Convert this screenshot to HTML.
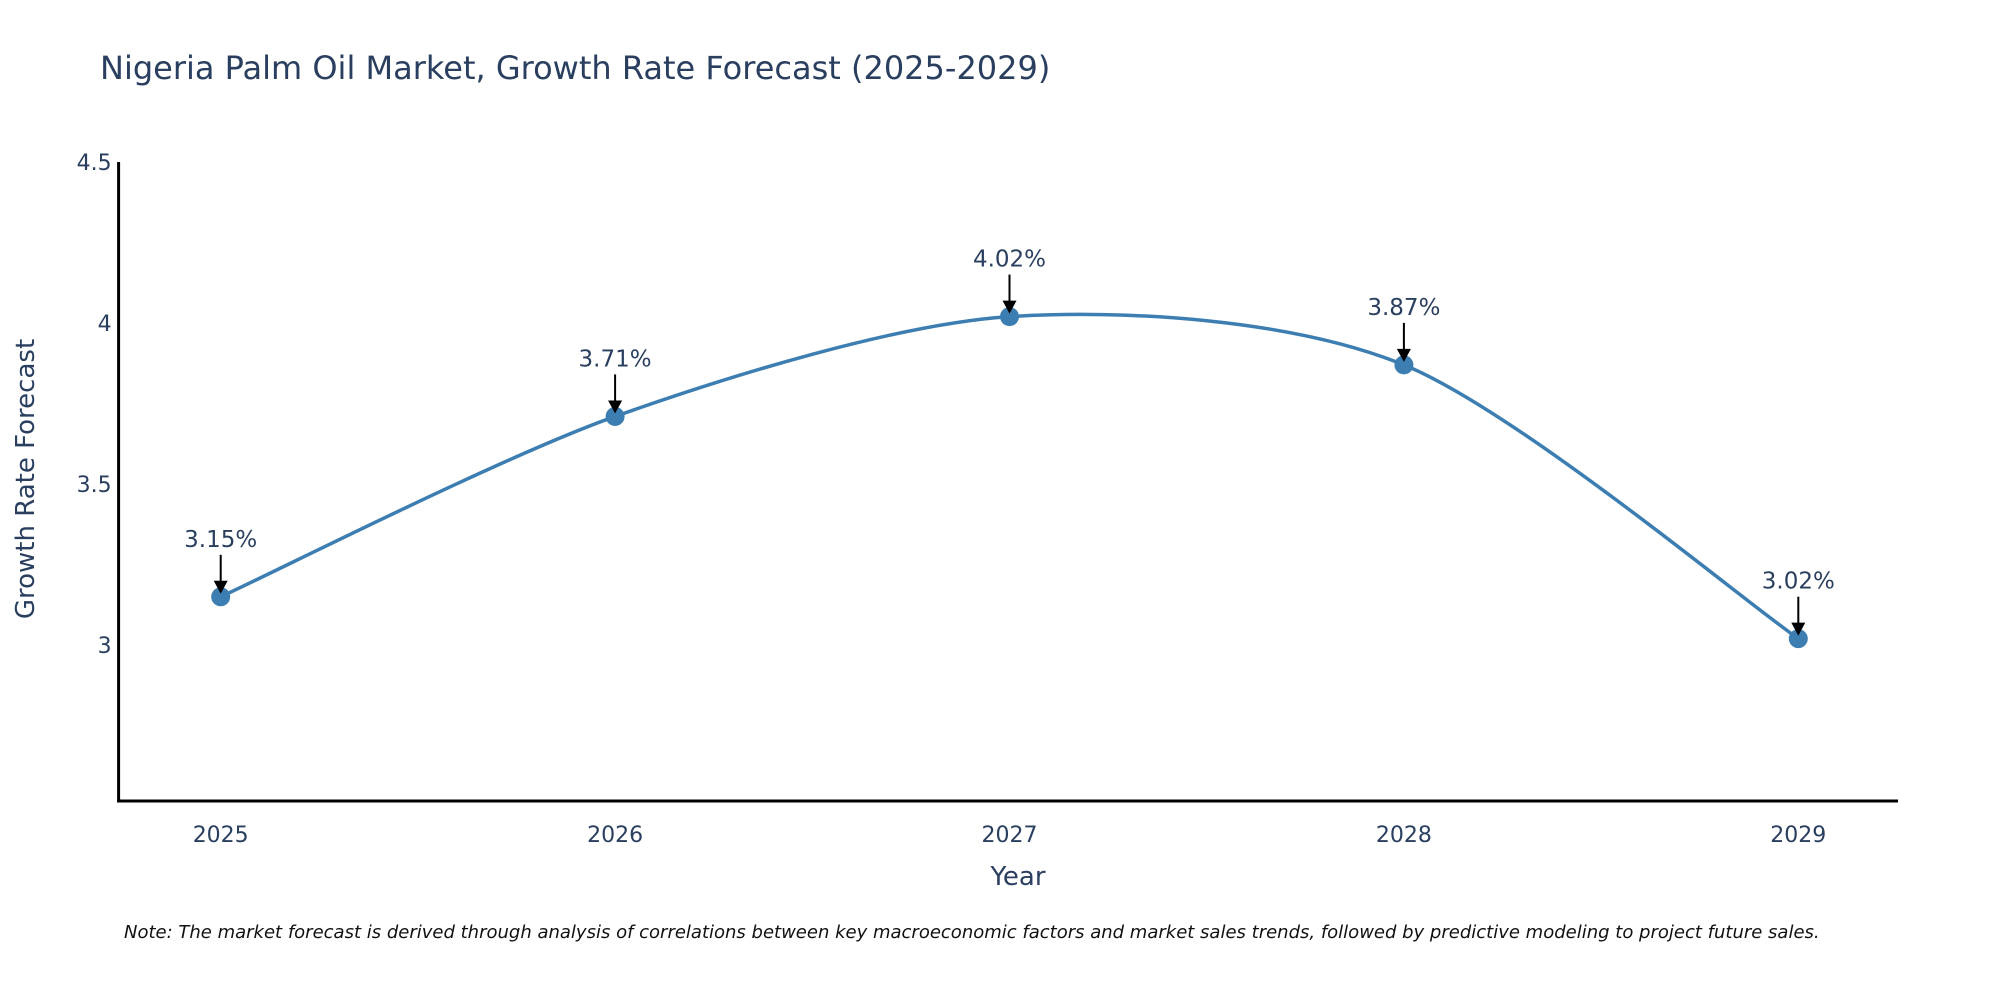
<!DOCTYPE html>
<html><head><meta charset="utf-8"><style>
body{margin:0;background:#fff}
svg{display:block;font-family:"DejaVu Sans","Liberation Sans",sans-serif}
</style></head><body>
<svg id="chart" width="2000" height="1000" viewBox="0 0 2000 1000">
<text x="100" y="79" font-size="32" fill="#2a3f5f">Nigeria Palm Oil Market, Growth Rate Forecast (2025-2029)</text>
<g id="axes"></g>
<g id="series"></g>
<text x="1018" y="885" font-size="26" fill="#2a3f5f" text-anchor="middle">Year</text>
<text transform="translate(34,479) rotate(-90)" font-size="26" fill="#2a3f5f" text-anchor="middle">Growth Rate Forecast</text>
<text x="124" y="938" font-size="18" font-style="italic" fill="#111">Note: The market forecast is derived through analysis of correlations between key macroeconomic factors and market sales trends, followed by predictive modeling to project future sales.</text>
</svg>
<script>
const years = [2025, 2026, 2027, 2028, 2029];
const values = [3.15, 3.71, 4.02, 3.87, 3.02];
const yTicks = [3, 3.5, 4, 4.5];
const yTickLabels = ["3", "3.5", "4", "4.5"];
const NS = "http://www.w3.org/2000/svg";
const L = 118.6, R = 1898, T = 162, B = 801;
const yMin = 2.516, yMax = 4.5;
const x0 = 220.7, dx = 394.4;
function xs(i){ return x0 + i*dx; }
function ys(v){ return B - (v - yMin)/(yMax - yMin)*(B - T); }
function mk(tag, attrs, parent){ const e = document.createElementNS(NS, tag); for (const k in attrs) e.setAttribute(k, attrs[k]); parent.appendChild(e); return e; }
const axes = document.getElementById('axes');
const series = document.getElementById('series');
const ya = mk('line', {x1:L, y1:T, x2:L, y2:B+1.5, stroke:'#000', 'stroke-width':3}, axes);


const xa = mk('line', {x1:L-1.5, y1:B, x2:R, y2:B, stroke:'#000', 'stroke-width':3}, axes);


yTicks.forEach((v, i) => {
  const t = mk('text', {x:L-7, y:ys(v)+8, 'font-size':22, fill:'#2a3f5f', 'text-anchor':'end'}, axes);
  t.textContent = yTickLabels[i];
  
  
});
years.forEach((yr, i) => {
  const t = mk('text', {x:xs(i), y:B+41, 'font-size':22, fill:'#2a3f5f', 'text-anchor':'middle'}, axes);
  t.textContent = String(yr);
  
  
});
const pts = values.map((v, i) => [xs(i), ys(v)]);
let d = `M${pts[0][0]},${pts[0][1]}`;
const k = 1/7;
for (let i = 0; i < pts.length-1; i++) {
  const p0 = pts[Math.max(0,i-1)], p1 = pts[i], p2 = pts[i+1], p3 = pts[Math.min(pts.length-1,i+2)];
  const c1 = [p1[0]+(p2[0]-p0[0])*k, p1[1]+(p2[1]-p0[1])*k];
  const c2 = [p2[0]-(p3[0]-p1[0])*k, p2[1]-(p3[1]-p1[1])*k];
  d += ` C${c1[0]},${c1[1]} ${c2[0]},${c2[1]} ${p2[0]},${p2[1]}`;
}
const line = mk('path', {d:d, fill:'none', stroke:'#3d7eb2', 'stroke-width':3.5}, series);


pts.forEach((p, i) => {
  const c = mk('circle', {cx:p[0], cy:p[1], r:9.5, fill:'#3d7eb2'}, series);
  
  
  const a = mk('line', {x1:p[0], y1:p[1]-42, x2:p[0], y2:p[1]-14, stroke:'#000', 'stroke-width':2}, series);
  
  
  const h = mk('polygon', {points:`${p[0]-7},${p[1]-16} ${p[0]+7},${p[1]-16} ${p[0]},${p[1]-3}`, fill:'#000'}, series);
  
  
  const t = mk('text', {x:p[0], y:p[1]-50, 'font-size':23, fill:'#2a3f5f', 'text-anchor':'middle'}, series);
  t.textContent = values[i].toFixed(2) + '%';
  
  
});
</script>
</body></html>
